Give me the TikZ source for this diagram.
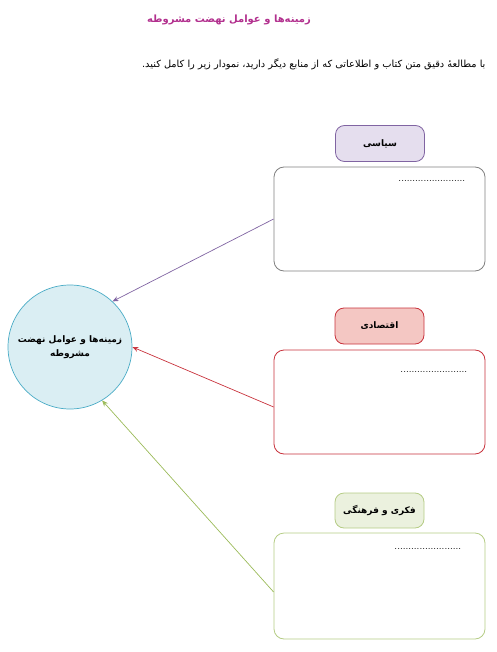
\documentclass[tikz,border=0pt]{standalone}
\usepackage{fontspec}
\newfontfamily\arabicfont[Script=Arabic]{DejaVu Sans}
\TeXXeTstate=1
\usetikzlibrary{positioning,arrows.meta}
\definecolor{titleclr}{HTML}{B2308E}
\definecolor{purpleln}{HTML}{8064A2}
\definecolor{purplefl}{HTML}{E5DEEE}
\definecolor{redln}{HTML}{C8323C}
\definecolor{redfl}{HTML}{F4C7C3}
\definecolor{greenln}{HTML}{9BBB59}
\definecolor{greenfl}{HTML}{EBF1DE}
\definecolor{greenbox}{HTML}{B5CC85}
\definecolor{circln}{HTML}{4BACC6}
\definecolor{circfl}{HTML}{DAEEF3}
\begin{document}
\begin{tikzpicture}[x=1pt,y=-1pt,
  tagbox/.style={draw,line width=0.8pt,rounded corners=9pt,minimum width=89pt,minimum height=36pt,inner sep=0pt,font=\arabicfont\bfseries\small},
  answerbox/.style={draw,line width=0.8pt,rounded corners=10pt,minimum width=211pt,minimum height=104pt,fill=white},
  dotline/.style={inner sep=0pt,anchor=north east},
  arr/.style={-{Stealth[length=6pt,width=5pt]},line width=0.7pt}]
\useasboundingbox (0,0) rectangle (496,652);
% headings
\node[font=\arabicfont\bfseries\fontsize{10}{12}\selectfont,text=titleclr] (head) at (229,20) {\beginR زمینه‌ها و عوامل نهضت مشروطه\endR};
\node[font=\arabicfont\fontsize{9.8}{12}\selectfont,anchor=east] (intro) at (489,64) {\beginR با مطالعهٔ دقیق متن کتاب و اطلاعاتی که از منابع دیگر دارید، نمودار زیر را کامل کنید.\endR};
% centre
\node[circle,draw=circln,fill=circfl,line width=0.7pt,minimum size=124pt,align=center,font=\arabicfont\bfseries\small] (goal) at (70,347) {\beginR زمینه‌ها و عوامل نهضت\endR\\[3pt]\beginR مشروطه\endR};
% political
\node[answerbox,draw=gray] (siyasi) at (379.5,219) {};
\node[tagbox,draw=purpleln,fill=purplefl] (siyasiT) at (380,143.5) {\beginR سیاسی\endR};
\node[dotline,below left=14pt and 20pt of siyasi.north east] (siyasiD) {........................};
% economic
\node[answerbox,draw=redln] (eqtesadi) at (379.5,402) {};
\node[tagbox,draw=redln,fill=redfl] (eqtesadiT) at (379.5,326) {\beginR اقتصادی\endR};
\node[dotline,below left=22pt and 18pt of eqtesadi.north east] (eqtesadiD) {........................};
% cultural
\node[answerbox,draw=greenbox,minimum height=106pt] (farhangi) at (379.5,586) {};
\node[tagbox,draw=greenbox,fill=greenfl,minimum height=35pt] (farhangiT) at (379.5,510.5) {\beginR فکری و فرهنگی\endR};
\node[dotline,below left=16pt and 24pt of farhangi.north east] (farhangiD) {........................};
% arrows
\draw[arr,purpleln] (siyasi.west) -- (goal.47);
\draw[arr,redln] ([yshift=-5pt]eqtesadi.west) -- (goal.0);
\draw[arr,greenln] ([yshift=-6pt]farhangi.west) -- (goal.-59);
\end{tikzpicture}
\end{document}
